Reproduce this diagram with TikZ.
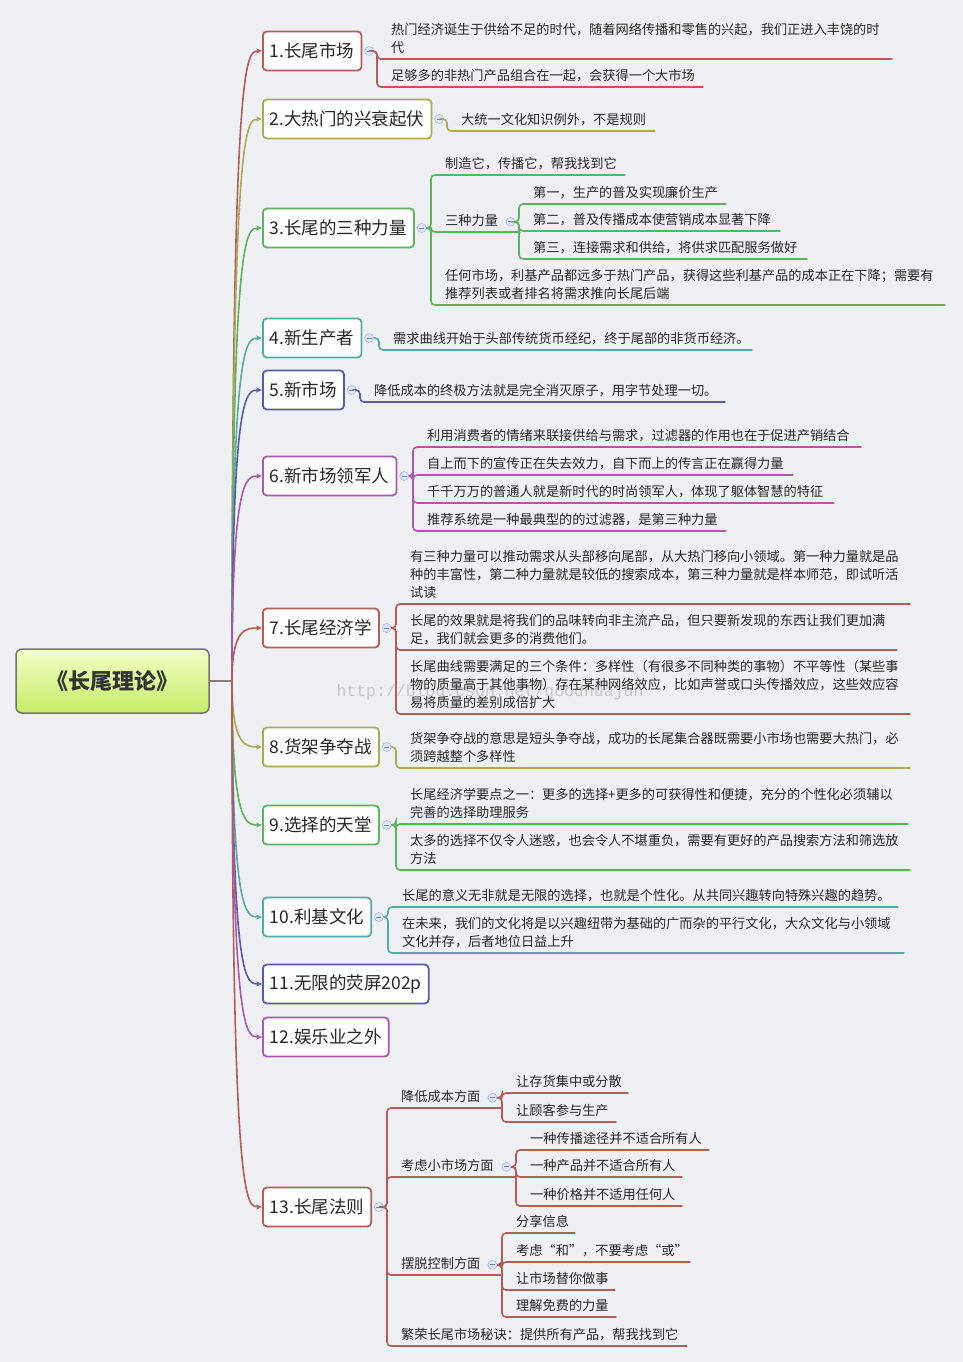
\documentclass[tikz,border=0pt]{standalone}
\usepackage{fontspec}
\setmainfont{Noto Sans CJK SC}
\newfontfamily\wmfont{Liberation Mono}
\usetikzlibrary{positioning,arrows.meta}

\definecolor{bg}{HTML}{EEF0F3}
\definecolor{cRed}{HTML}{B25D5A}
\definecolor{cOlive}{HTML}{ABAB56}
\definecolor{cGreen}{HTML}{5DB25D}
\definecolor{cTeal}{HTML}{56AAA6}
\definecolor{cBlue}{HTML}{5A5AAA}
\definecolor{cPurple}{HTML}{AA5AAA}
\definecolor{hubgrey}{HTML}{8C7A7A}
\definecolor{foldfill}{HTML}{DCE6F8}
\definecolor{folddraw}{HTML}{A6BCE6}
\definecolor{rootTop}{HTML}{F4FFC8}
\definecolor{rootBot}{HTML}{C4EC66}

\newcommand\leaffont{\fontsize{13.2}{18}\selectfont}
\newcommand\topicfont{\fontsize{17.5}{21}\selectfont}
\newcommand\rootfont{\fontsize{22}{26}\selectfont\bfseries}

\begin{document}
\begin{tikzpicture}[
  x=1pt, y=-1pt,
  >={Stealth[length=6pt,width=5pt]},
  root/.style={draw=black!55,line width=1.5pt,rounded corners=6pt,
    top color=rootTop,bottom color=rootBot,minimum width=193pt,
    minimum height=64pt,font=\rootfont,text=black!80},
  topic/.style={draw=#1,line width=1.8pt,rounded corners=4pt,fill=white,
    inner xsep=7pt,minimum height=39pt,font=\topicfont,text=black!85,anchor=west},
  fold/.style={circle,draw=folddraw,fill=foldfill,minimum size=9pt,inner sep=0pt,
    line width=0.6pt,path picture={\draw[folddraw!70!black,line width=0.8pt]
      ([xshift=-2.5pt]path picture bounding box.center) --
      ([xshift=2.5pt]path picture bounding box.center);}},
  leaf/.style={anchor=south west,align=left,inner xsep=8pt,inner ysep=1pt,
    font=\leaffont,text=black!85,execute at end node=\strut},
  wm/.style={font=\wmfont\fontsize{16.5}{18}\selectfont,text=black!22},
  trunk/.style={->,draw=#1,line width=1.6pt},
  br/.style={draw=#1,line width=1.6pt,rounded corners=4pt}
]
  \useasboundingbox (0,0) rectangle (963,1362);
  \fill[bg] (0,0) rectangle (963,1362);
  \node[wm] (wm) at (490,692) {http://blog.csdn.net/goodhuajun};

  % root and topics
  \node[root] (root) at (112.5,681) {《长尾理论》};
  \coordinate (hub) at (232,681);

  \node[topic=cRed]    (t1)  at (262,51)   {1.长尾市场};
  \node[topic=cOlive]  (t2)  at (262,119)  {2.大热门的兴衰起伏};
  \node[topic=cGreen]  (t3)  at (262,228)  {3.长尾的三种力量};
  \node[topic=cTeal]   (t4)  at (262,338)  {4.新生产者};
  \node[topic=cBlue]   (t5)  at (262,390)  {5.新市场};
  \node[topic=cPurple] (t6)  at (262,476)  {6.新市场领军人};
  \node[topic=cRed]    (t7)  at (262,628)  {7.长尾经济学};
  \node[topic=cOlive]  (t8)  at (262,747)  {8.货架争夺战};
  \node[topic=cGreen]  (t9)  at (262,825)  {9.选择的天堂};
  \node[topic=cTeal]   (t10) at (262,917)  {10.利基文化};
  \node[topic=cBlue]   (t11) at (262,984)  {11.无限的荧屏202p};
  \node[topic=cPurple] (t12) at (262,1037) {12.娱乐业之外};
  \node[topic=cRed]    (t13) at (262,1207) {13.长尾法则};

  \node[fold,right=2pt of t1]  (c1)  {};
  \node[fold,right=2pt of t2]  (c2)  {};
  \node[fold,right=2pt of t3]  (c3)  {};
  \node[fold,right=2pt of t4]  (c4)  {};
  \node[fold,right=2pt of t5]  (c5)  {};
  \node[fold,right=2pt of t6]  (c6)  {};
  \node[fold,right=2pt of t7]  (c7)  {};
  \node[fold,right=2pt of t8]  (c8)  {};
  \node[fold,right=2pt of t9]  (c9)  {};
  \node[fold,right=2pt of t10] (c10) {};
  \node[fold,right=2pt of t13] (c13) {};

  % leaves
  \node[leaf,text width=493pt] (l1a) at (383,59) {热门经济诞生于供给不足的时代，随着网络传播和零售的兴起，我们正进入丰饶的时\\代};
  \node[leaf,text width=304pt] (l1b) at (383,87) {足够多的非热门产品组合在一起，会获得一个大市场};
  \node[leaf,text width=186pt] (l2a) at (453,131) {大统一文化知识例外，不是规则};

  \node[leaf,text width=172pt] (l3a) at (437,175) {制造它，传播它，帮我找到它};
  \node[leaf,text width=67pt]  (s3)  at (437,232) {三种力量};
  \node[fold] (c3s) at ([xshift=-10pt]s3.east) {};
  \node[leaf,text width=185pt] (l3b) at (525,204) {第一，生产的普及实现廉价生产};
  \node[leaf,text width=239pt] (l3c) at (525,231) {第二，普及传播成本使营销成本显著下降};
  \node[leaf,text width=266pt] (l3d) at (525,259) {第三，连接需求和供给，将供求匹配服务做好};
  \node[leaf,text width=492pt] (l3e) at (437,305) {任何市场，利基产品都远多于热门产品，获得这些利基产品的成本正在下降；需要有\\推荐列表或者排名将需求推向长尾后端};

  \node[leaf,text width=351pt] (l4a) at (385,350) {需求曲线开始于头部传统货币经纪，终于尾部的非货币经济。};
  \node[leaf,text width=343pt] (l5a) at (366,402) {降低成本的终极方法就是完全消灭原子，用字节处理一切。};

  \node[leaf,text width=426pt] (l6a) at (419,447) {利用消费者的情绪来联接供给与需求，过滤器的作用也在于促进产销结合};
  \node[leaf,text width=358pt] (l6b) at (419,475) {自上而下的宣传正在失去效力，自下而上的传言正在赢得力量};
  \node[leaf,text width=399pt] (l6c) at (419,503) {千千万万的普通人就是新时代的时尚领军人，体现了躯体智慧的特征};
  \node[leaf,text width=291pt] (l6d) at (419,531) {推荐系统是一种最典型的的过滤器，是第三种力量};

  \node[leaf,text width=492pt] (l7a) at (402,604) {有三种力量可以推动需求从头部移向尾部，从大热门移向小领域。第一种力量就是品\\种的丰富性，第二种力量就是较低的搜索成本，第三种力量就是样本师范，即试听活\\试读};
  \node[leaf,text width=479pt] (l7b) at (402,650) {长尾的效果就是将我们的品味转向非主流产品，但只要新发现的东西让我们更加满\\足，我们就会更多的消费他们。};
  \node[leaf,text width=492pt] (l7c) at (402,714) {长尾曲线需要满足的三个条件：多样性（有很多不同种类的事物）不平等性（某些事\\物的质量高于其他事物）存在某种网络效应，比如声誉或口头传播效应，这些效应容\\易将质量的差别成倍扩大};

  \node[leaf,text width=492pt] (l8a) at (402,768) {货架争夺战的意思是短头争夺战，成功的长尾集合器既需要小市场也需要大热门，必\\须跨越整个多样性};

  \node[leaf,text width=490pt] (l9a) at (402,824) {长尾经济学要点之一：更多的选择+更多的可获得性和便捷，充分的个性化必须辅以\\完善的选择助理服务};
  \node[leaf,text width=492pt] (l9b) at (402,870) {太多的选择不仅令人迷惑，也会令人不堪重负，需要有更好的产品搜索方法和筛选放\\方法};

  \node[leaf,text width=488pt] (l10a) at (394,907) {长尾的意义无非就是无限的选择，也就是个性化。从共同兴趣转向特殊兴趣的趋势。};
  \node[leaf,text width=494pt] (l10b) at (394,953) {在未来，我们的文化将是以兴趣纽带为基础的广而杂的平行文化，大众文化与小领域\\文化并存，后者地位日益上升};

  \node[leaf,text width=93pt] (s13a) at (393,1108) {降低成本方面};
  \node[fold] (c13a) at ([xshift=-10pt]s13a.east) {};
  \node[leaf,text width=104pt] (l13a1) at (508,1093) {让存货集中或分散};
  \node[leaf,text width=92pt]  (l13a2) at (508,1122) {让顾客参与生产};
  \node[leaf,text width=107pt] (s13b) at (393,1177) {考虑小市场方面};
  \node[fold] (c13b) at ([xshift=-10pt]s13b.east) {};
  \node[leaf,text width=171pt] (l13b1) at (522,1150) {一种传播途径并不适合所有人};
  \node[leaf,text width=144pt] (l13b2) at (522,1177) {一种产品并不适合所有人};
  \node[leaf,text width=144pt] (l13b3) at (522,1206) {一种价格并不适用任何人};
  \node[leaf,text width=93pt] (s13c) at (393,1275) {摆脱控制方面};
  \node[fold] (c13c) at ([xshift=-10pt]s13c.east) {};
  \node[leaf,text width=51pt]  (l13c1) at (508,1233) {分享信息};
  \node[leaf,text width=166pt] (l13c2) at (508,1262) {考虑“和”，不要考虑“或”};
  \node[leaf,text width=91pt]  (l13c3) at (508,1290) {让市场替你做事};
  \node[leaf,text width=92pt]  (l13c4) at (508,1317) {理解免费的力量};
  \node[leaf,text width=278pt] (s13d) at (393,1346) {繁荣长尾市场秘诀：提供所有产品，帮我找到它};

  % trunk
  \draw[line width=1.6pt,draw=hubgrey] (root.east) -- (hub);
  \draw[trunk=cRed]    (hub) .. controls (hub |- t1.west) and ([xshift=-16pt]t1.west) .. (t1.west);
  \draw[trunk=cOlive]  (hub) .. controls (hub |- t2.west) and ([xshift=-16pt]t2.west) .. (t2.west);
  \draw[trunk=cGreen]  (hub) .. controls (hub |- t3.west) and ([xshift=-16pt]t3.west) .. (t3.west);
  \draw[trunk=cTeal]   (hub) .. controls (hub |- t4.west) and ([xshift=-16pt]t4.west) .. (t4.west);
  \draw[trunk=cBlue]   (hub) .. controls (hub |- t5.west) and ([xshift=-16pt]t5.west) .. (t5.west);
  \draw[trunk=cPurple] (hub) .. controls (hub |- t6.west) and ([xshift=-16pt]t6.west) .. (t6.west);
  \draw[trunk=cRed]    (hub) .. controls (hub |- t7.west) and ([xshift=-16pt]t7.west) .. (t7.west);
  \draw[trunk=cOlive]  (hub) .. controls (hub |- t8.west) and ([xshift=-16pt]t8.west) .. (t8.west);
  \draw[trunk=cGreen]  (hub) .. controls (hub |- t9.west) and ([xshift=-16pt]t9.west) .. (t9.west);
  \draw[trunk=cTeal]   (hub) .. controls (hub |- t10.west) and ([xshift=-16pt]t10.west) .. (t10.west);
  \draw[trunk=cBlue]   (hub) .. controls (hub |- t11.west) and ([xshift=-16pt]t11.west) .. (t11.west);
  \draw[trunk=cPurple] (hub) .. controls (hub |- t12.west) and ([xshift=-16pt]t12.west) .. (t12.west);
  \draw[trunk=cRed]    (hub) .. controls (hub |- t13.west) and ([xshift=-16pt]t13.west) .. (t13.west);

  % branches
  \draw[br=cRed] (c1.east) -| ([xshift=-6pt]l1a.south west) -- (l1a.south east);
  \draw[br=cRed] (c1.east) -| ([xshift=-6pt]l1b.south west) -- (l1b.south east);
  \draw[br=cOlive] (c2.east) -| ([xshift=-6pt]l2a.south west) -- (l2a.south east);

  \draw[br=cGreen] (c3.east) -| ([xshift=-6pt]l3a.south west) -- (l3a.south east);
  \draw[br=cGreen] (c3.east) -| ([xshift=-6pt]s3.south west) -- (s3.south east);
  \draw[br=cGreen] (c3.east) -| ([xshift=-6pt]l3e.south west) -- (l3e.south east);
  \draw[br=cGreen] (c3s.east) -| ([xshift=-6pt]l3b.south west) -- (l3b.south east);
  \draw[br=cGreen] (c3s.east) -| ([xshift=-6pt]l3c.south west) -- (l3c.south east);
  \draw[br=cGreen] (c3s.east) -| ([xshift=-6pt]l3d.south west) -- (l3d.south east);

  \draw[br=cTeal] (c4.east) -| ([xshift=-6pt]l4a.south west) -- (l4a.south east);
  \draw[br=cBlue] (c5.east) -| ([xshift=-6pt]l5a.south west) -- (l5a.south east);

  \draw[br=cPurple] (c6.east) -| ([xshift=-6pt]l6a.south west) -- (l6a.south east);
  \draw[br=cPurple] (c6.east) -| ([xshift=-6pt]l6b.south west) -- (l6b.south east);
  \draw[br=cPurple] (c6.east) -| ([xshift=-6pt]l6c.south west) -- (l6c.south east);
  \draw[br=cPurple] (c6.east) -| ([xshift=-6pt]l6d.south west) -- (l6d.south east);

  \draw[br=cRed] (c7.east) -| ([xshift=-6pt]l7a.south west) -- (l7a.south east);
  \draw[br=cRed] (c7.east) -| ([xshift=-6pt]l7b.south west) -- (l7b.south east);
  \draw[br=cRed] (c7.east) -| ([xshift=-6pt]l7c.south west) -- (l7c.south east);

  \draw[br=cOlive] (c8.east) -| ([xshift=-6pt]l8a.south west) -- (l8a.south east);
  \draw[br=cGreen] (c9.east) -| ([xshift=-6pt]l9a.south west) -- (l9a.south east);
  \draw[br=cGreen] (c9.east) -| ([xshift=-6pt]l9b.south west) -- (l9b.south east);
  \draw[br=cTeal] (c10.east) -| ([xshift=-6pt]l10a.south west) -- (l10a.south east);
  \draw[br=cTeal] (c10.east) -| ([xshift=-6pt]l10b.south west) -- (l10b.south east);

  \draw[br=cRed] (c13.east) -| ([xshift=-6pt]s13a.south west) -- (s13a.south east);
  \draw[br=cRed] (c13.east) -| ([xshift=-6pt]s13b.south west) -- (s13b.south east);
  \draw[br=cRed] (c13.east) -| ([xshift=-6pt]s13c.south west) -- (s13c.south east);
  \draw[br=cRed] (c13.east) -| ([xshift=-6pt]s13d.south west) -- (s13d.south east);
  \draw[br=cRed] (c13a.east) -| ([xshift=-6pt]l13a1.south west) -- (l13a1.south east);
  \draw[br=cRed] (c13a.east) -| ([xshift=-6pt]l13a2.south west) -- (l13a2.south east);
  \draw[br=cRed] (c13b.east) -| ([xshift=-6pt]l13b1.south west) -- (l13b1.south east);
  \draw[br=cRed] (c13b.east) -| ([xshift=-6pt]l13b2.south west) -- (l13b2.south east);
  \draw[br=cRed] (c13b.east) -| ([xshift=-6pt]l13b3.south west) -- (l13b3.south east);
  \draw[br=cRed] (c13c.east) -| ([xshift=-6pt]l13c1.south west) -- (l13c1.south east);
  \draw[br=cRed] (c13c.east) -| ([xshift=-6pt]l13c2.south west) -- (l13c2.south east);
  \draw[br=cRed] (c13c.east) -| ([xshift=-6pt]l13c3.south west) -- (l13c3.south east);
  \draw[br=cRed] (c13c.east) -| ([xshift=-6pt]l13c4.south west) -- (l13c4.south east);
\end{tikzpicture}
\end{document}
